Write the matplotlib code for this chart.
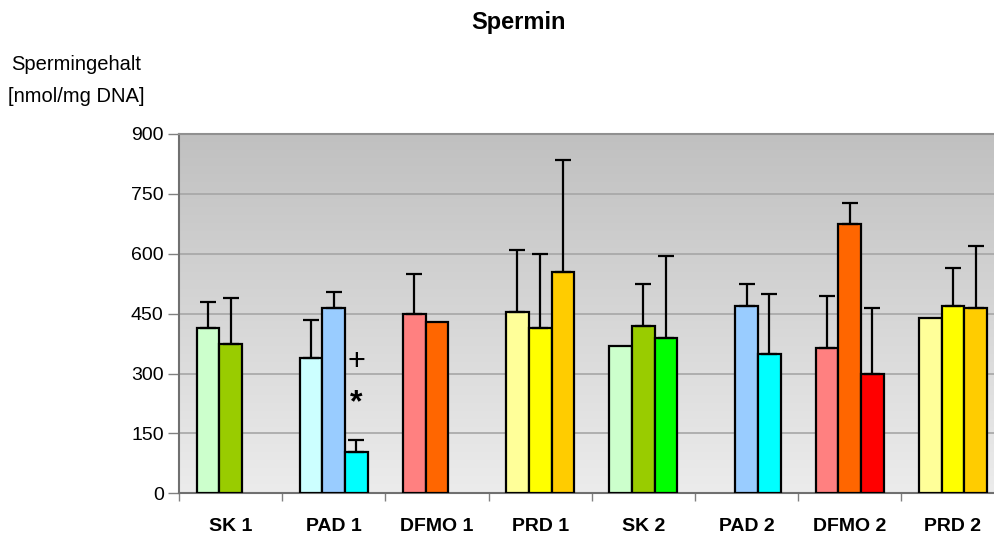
import numpy as np
import matplotlib
matplotlib.use("Agg")
import matplotlib.pyplot as plt
from matplotlib.colors import LinearSegmentedColormap

plt.rcParams['font.family'] = ['Liberation Sans', 'DejaVu Sans']

categories = ["SK 1", "PAD 1", "DFMO 1", "PRD 1", "SK 2", "PAD 2", "DFMO 2", "PRD 2"]
nan = np.nan
# three bar slots per category
values = [
    [414, 374, nan],
    [340, 464, 104],
    [450, 430, nan],
    [454, 414, 554],
    [369, 419, 389],
    [nan, 469, 349],
    [364, 675, 299],
    [439, 469, 464],
]
errors = [
    [66, 115, nan],
    [94, 40, 30],
    [99, nan, nan],
    [156, 185, 281],
    [nan, 106, 206],
    [nan, 56, 151],
    [131, 51, 165],
    [nan, 96, 155],
]
palette = {
    "SK": ["#CCFFCC", "#99CC00", "#00FF00"],
    "PAD": ["#CCFFFF", "#99CCFF", "#00FFFF"],
    "DFMO": ["#FF8080", "#FF6600", "#FF0000"],
    "PRD": ["#FFFF99", "#FFFF00", "#FFCC00"],
}
yticks = [0, 150, 300, 450, 600, 750, 900]

fig = plt.figure(figsize=(9.94, 5.39), dpi=100)
ax = fig.add_axes([179/994, 1-493.3/539, (1004.5-179)/994, (493.3-134)/539])

n = len(categories)
ax.set_xlim(0, n)
ax.set_ylim(0, 900)

# gradient background
grad = np.linspace(0, 1, 256).reshape(-1, 1)
cmap = LinearSegmentedColormap.from_list("bg", ["#ECECEC", "#C0C0C0"])
ax.imshow(grad, extent=[0, n, 0, 900], aspect='auto', origin='lower', cmap=cmap, zorder=0)

for yv in yticks[1:]:
    ax.axhline(yv, color="#A6A6A6", lw=1.2, zorder=1)

bw = 0.22
offsets = [-bw, 0, bw]
for i, cat in enumerate(categories):
    key = cat.split()[0]
    cols = palette[key]
    for j in range(3):
        v = values[i][j]
        if np.isnan(v):
            continue
        x = i + 0.5 + offsets[j]
        ax.bar(x, v, width=bw, color=cols[j], edgecolor="black", linewidth=1.6, zorder=3)
        e = errors[i][j]
        if not np.isnan(e):
            ax.errorbar(x, v, yerr=[[0], [e]], fmt='none', ecolor='black',
                        elinewidth=1.6, capsize=5.5, capthick=1.6, zorder=4)

# significance markers
ax.text(1.5 + bw, 329, "+", ha='center', va='center', fontsize=22, zorder=5)
ax.text(1.5 + bw, 226, "*", ha='center', va='center', fontsize=23, fontweight='bold', zorder=5)

ax.set_yticks(yticks)
ax.set_yticklabels([str(t) for t in yticks], fontsize=14)
ax.tick_params(axis='y', direction='out', length=8, width=1, color="#808080", pad=3)

ax.set_xticks(np.arange(n) + 0.5)
ax.set_xticklabels(categories, fontsize=14, fontweight='bold')
ax.set_xticks(np.arange(n + 1), minor=True)
ax.tick_params(axis='x', which='major', length=0, pad=18)
ax.tick_params(axis='x', which='minor', direction='out', length=6, width=1, color="#808080")

for s in ['left', 'bottom']:
    ax.spines[s].set_color("#707070")
    ax.spines[s].set_linewidth(1.5)
ax.spines['top'].set_color("#909090")
ax.spines['top'].set_linewidth(1.5)
ax.spines['right'].set_visible(False)

fig.text(519/994, 1-22/539, "Spermin", ha='center', va='center', fontsize=17, fontweight='bold')
fig.text(11/994, 1-64/539, "Spermingehalt", ha='left', va='center', fontsize=14.5)
fig.text(8/994, 1-96/539, "[nmol/mg DNA]", ha='left', va='center', fontsize=14.5)

fig.savefig("out.png", dpi=100)
